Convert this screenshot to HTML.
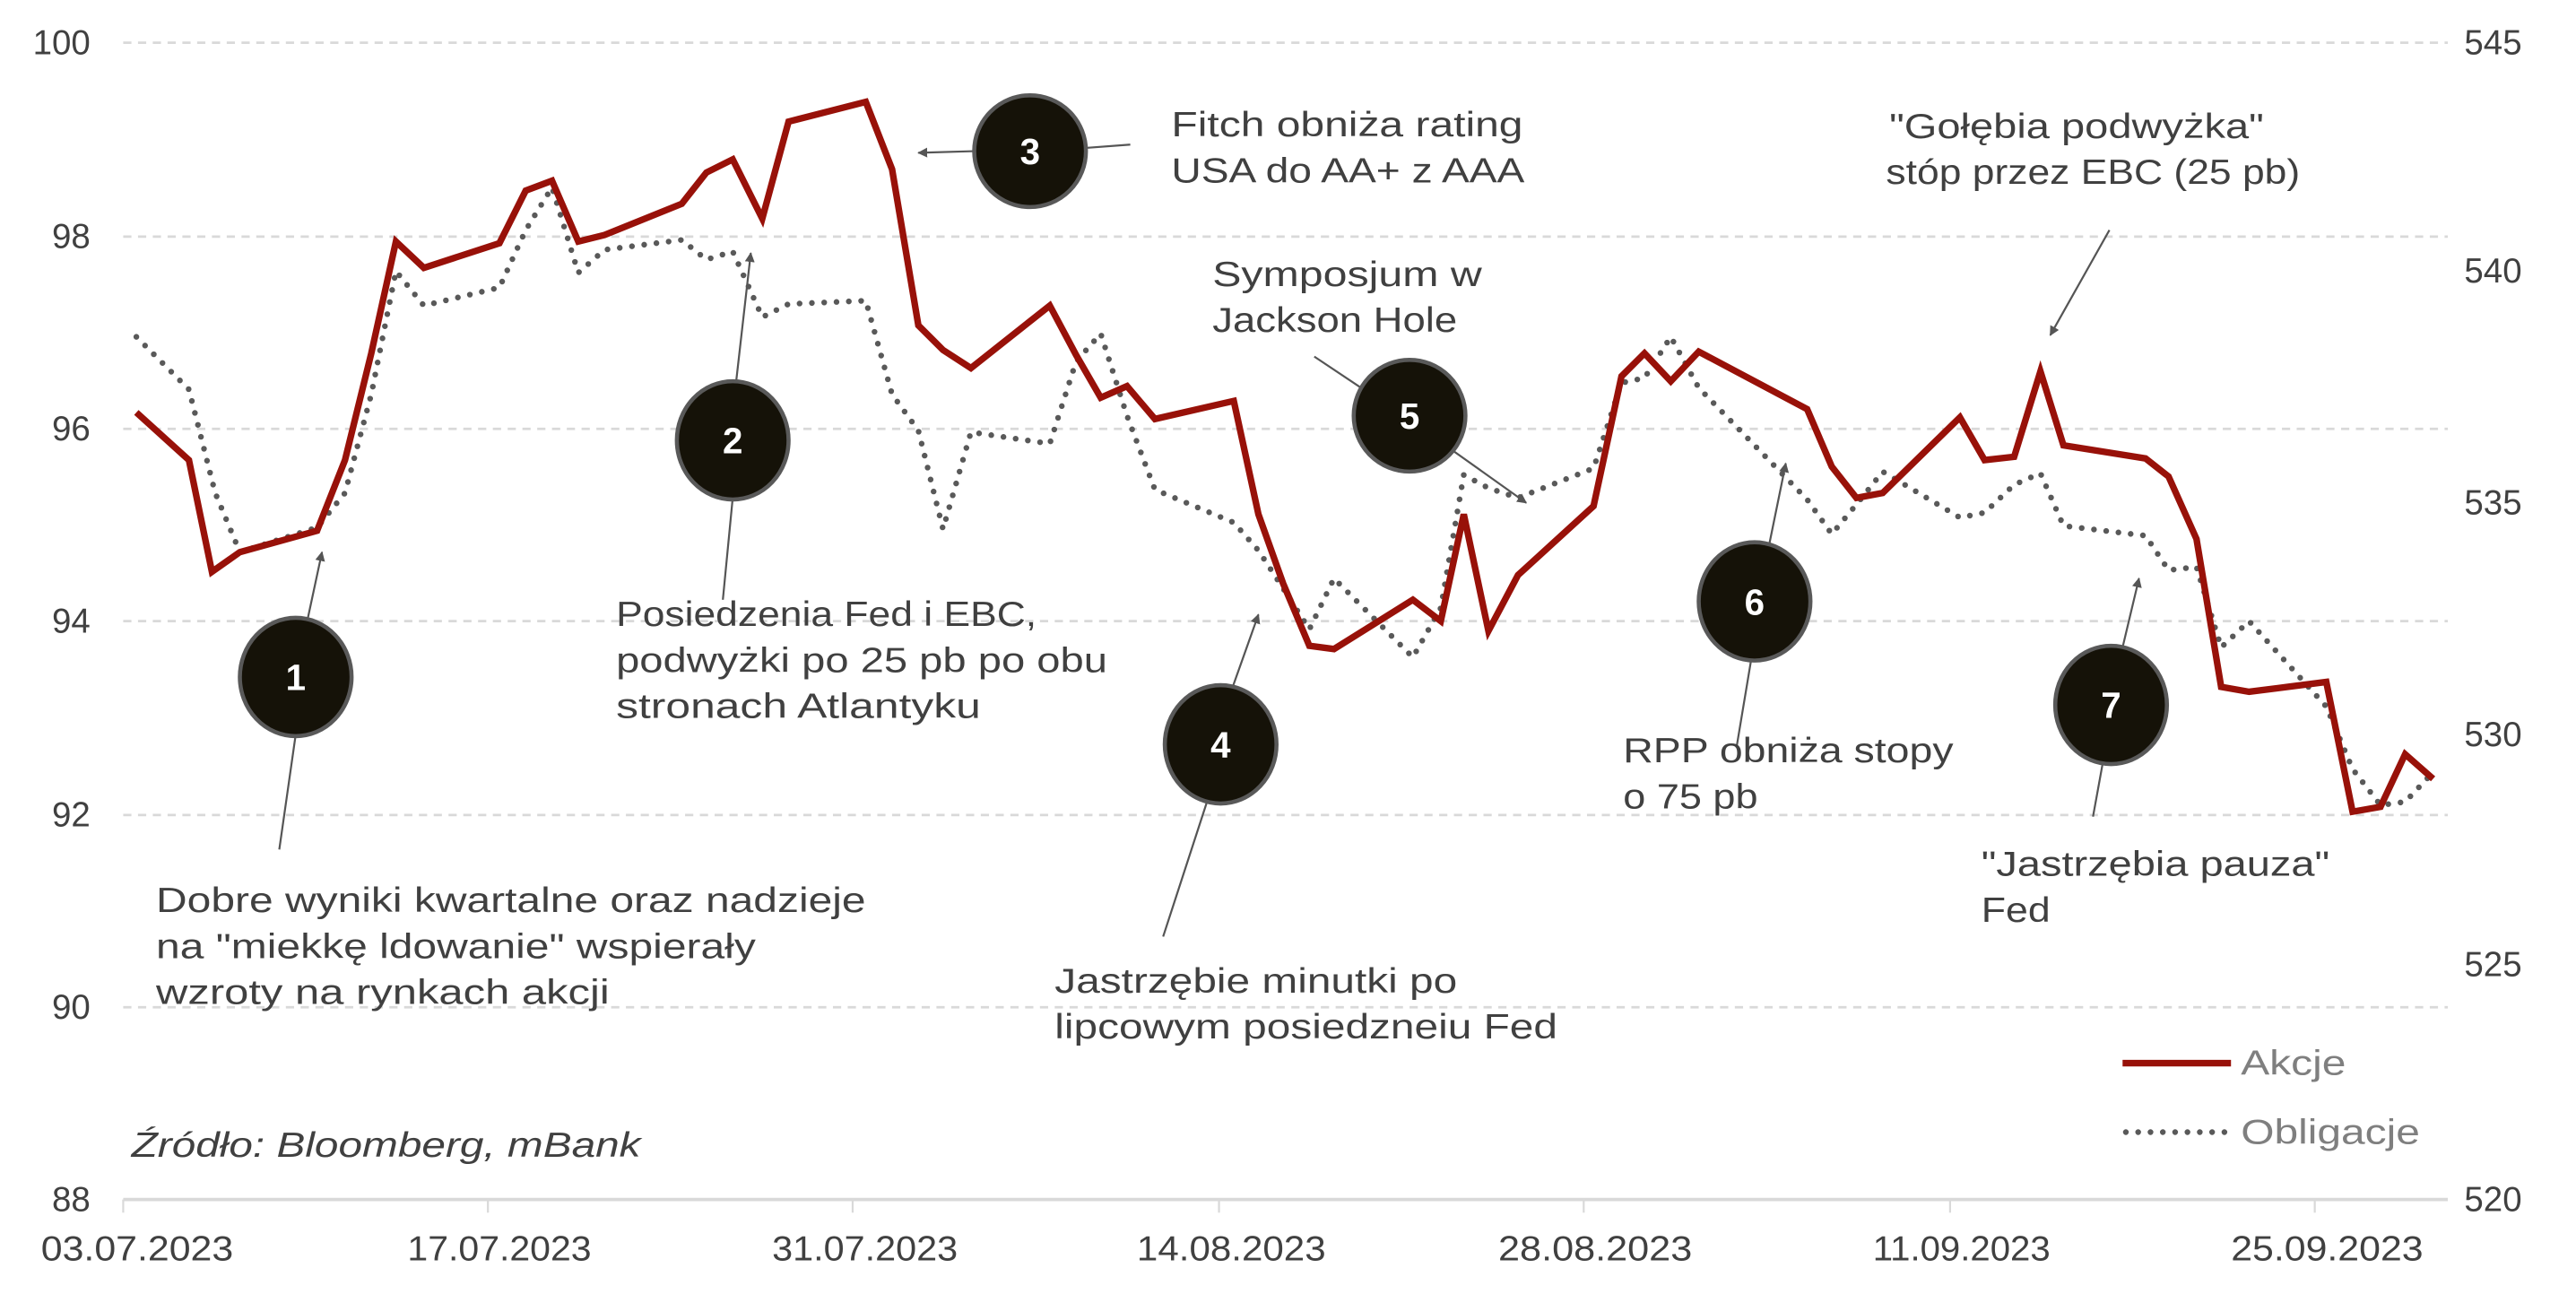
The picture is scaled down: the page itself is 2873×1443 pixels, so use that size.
<!DOCTYPE html>
<html><head><meta charset="utf-8"><style>
html,body{margin:0;padding:0;background:#fff;}
svg{display:block;}
text{font-family:"Liberation Sans",sans-serif;fill:#404040;}
</style></head><body>
<svg width="2873" height="1443" viewBox="0 0 1568 787.5" preserveAspectRatio="none" xmlns="http://www.w3.org/2000/svg">
<defs><marker id="ah" viewBox="0 0 10 10" refX="9" refY="5" markerWidth="5" markerHeight="5" orient="auto"><path d="M0,0 L10,5 L0,10 z" fill="#555"/></marker></defs>
<g stroke="#d9d9d9" stroke-width="1.5" stroke-dasharray="5,4">
<line x1="75" x2="1490" y1="26" y2="26"/><line x1="75" x2="1490" y1="144" y2="144"/><line x1="75" x2="1490" y1="261" y2="261"/><line x1="75" x2="1490" y1="378" y2="378"/><line x1="75" x2="1490" y1="496" y2="496"/><line x1="75" x2="1490" y1="613" y2="613"/>
</g>
<line x1="75" x2="1490" y1="730" y2="730" stroke="#d9d9d9" stroke-width="2"/>
<g stroke="#d9d9d9" stroke-width="1.2"><line x1="75" x2="75" y1="730" y2="738"/><line x1="297" x2="297" y1="730" y2="738"/><line x1="519" x2="519" y1="730" y2="738"/><line x1="742" x2="742" y1="730" y2="738"/><line x1="964" x2="964" y1="730" y2="738"/><line x1="1187" x2="1187" y1="730" y2="738"/><line x1="1409" x2="1409" y1="730" y2="738"/></g>
<g font-size="21" text-anchor="end" style="fill:#595959"><text x="55" y="33">100</text><text x="55" y="151">98</text><text x="55" y="268">96</text><text x="55" y="385">94</text><text x="55" y="503">92</text><text x="55" y="620">90</text><text x="55" y="737">88</text></g>
<g font-size="21" style="fill:#595959"><text x="1500" y="33">545</text><text x="1500" y="172">540</text><text x="1500" y="313">535</text><text x="1500" y="454">530</text><text x="1500" y="594">525</text><text x="1500" y="737">520</text></g>
<g font-size="21" style="fill:#595959"><text lengthAdjust="spacingAndGlyphs" x="25" y="767" textLength="117">03.07.2023</text><text lengthAdjust="spacingAndGlyphs" x="248" y="767" textLength="112">17.07.2023</text><text lengthAdjust="spacingAndGlyphs" x="470" y="767" textLength="113">31.07.2023</text><text lengthAdjust="spacingAndGlyphs" x="692" y="767" textLength="115">14.08.2023</text><text lengthAdjust="spacingAndGlyphs" x="912" y="767" textLength="118">28.08.2023</text><text lengthAdjust="spacingAndGlyphs" x="1140" y="767" textLength="108">11.09.2023</text><text lengthAdjust="spacingAndGlyphs" x="1358" y="767" textLength="117">25.09.2023</text></g>
<polyline fill="none" stroke="#595959" stroke-width="3.5" stroke-linecap="round" stroke-dasharray="0,7.5" points="83,205 115,237 131,300 146,336 193,321 210,300 226,240 241,165 258,186 304,175 320,140 336,114 352,166 368,152 415,146 430,158 446,153 464,193 480,185 527,183 543,240 559,262 574,322 591,263 639,270 655,220 670,203 686,253 703,298 751,318 766,335 781,358 797,383 812,352 860,400 877,370 891,289 906,297 924,303 970,285 987,233 1001,230 1017,205 1034,236 1100,304 1115,325 1130,307 1146,287 1193,315 1208,312 1226,295 1242,288 1256,320 1306,326 1320,347 1337,345 1352,394 1369,378 1416,430 1432,468 1449,490 1464,488 1481,470"/>
<polyline fill="none" stroke="#981109" stroke-width="4" stroke-linejoin="miter" points="83,251 115,280 129,348 146,336 193,323 210,280 226,215 241,147 258,163 304,148 320,116 336,110 352,147 368,143 415,124 430,105 446,97 464,133 480,74 527,62 543,103 559,198 574,213 591,224 639,186 655,216 670,242 686,235 703,255 751,244 766,313 781,355 797,393 812,395 860,365 877,378 891,313 906,384 924,350 970,308 987,229 1001,215 1017,232 1034,214 1100,249 1115,284 1130,303 1146,300 1193,254 1208,280 1226,278 1242,226 1256,271 1306,279 1320,290 1337,328 1352,418 1369,421 1416,415 1432,494 1449,491 1464,459 1481,474"/>
<g stroke="#555" stroke-width="1.2" fill="none">
<line x1="170" y1="517" x2="180" y2="447"/><line x1="187" y1="378" x2="196" y2="336" marker-end="url(#ah)"/>
<line x1="440" y1="365" x2="446" y2="303"/><line x1="448" y1="233" x2="457" y2="154" marker-end="url(#ah)"/>
<line x1="688" y1="88" x2="661" y2="90"/><line x1="593" y1="92" x2="559" y2="93" marker-end="url(#ah)"/>
<line x1="708" y1="570" x2="735" y2="487"/><line x1="750" y1="419" x2="766" y2="374" marker-end="url(#ah)"/>
<line x1="800" y1="217" x2="830" y2="237"/><line x1="884" y1="274" x2="929" y2="306" marker-end="url(#ah)"/>
<line x1="1077" y1="331" x2="1087" y2="282" marker-end="url(#ah)"/><line x1="1066" y1="401" x2="1057" y2="455"/>
<line x1="1292" y1="394" x2="1302" y2="352" marker-end="url(#ah)"/><line x1="1280" y1="464" x2="1274" y2="497"/>
<line x1="1284" y1="140" x2="1248" y2="204" marker-end="url(#ah)"/>
</g>
<g fill="#151208" stroke="#595959" stroke-width="2.5">
<ellipse cx="180" cy="412" rx="34" ry="36"/><ellipse cx="446" cy="268" rx="34" ry="36"/><ellipse cx="627" cy="92" rx="34" ry="34"/><ellipse cx="743" cy="453" rx="34" ry="36"/><ellipse cx="858" cy="253" rx="34" ry="34"/><ellipse cx="1068" cy="366" rx="34" ry="36"/><ellipse cx="1285" cy="429" rx="34" ry="36"/>
</g>
<g font-size="22" font-weight="bold" text-anchor="middle"><text x="180" y="420" style="fill:#fff">1</text><text x="446" y="276" style="fill:#fff">2</text><text x="627" y="100" style="fill:#fff">3</text><text x="743" y="461" style="fill:#fff">4</text><text x="858" y="261" style="fill:#fff">5</text><text x="1068" y="374" style="fill:#fff">6</text><text x="1285" y="437" style="fill:#fff">7</text></g>
<g font-size="21">
<text lengthAdjust="spacingAndGlyphs" x="713" y="83" textLength="214">Fitch obniża rating</text><text lengthAdjust="spacingAndGlyphs" x="713" y="111" textLength="215">USA do AA+ z AAA</text>
<text lengthAdjust="spacingAndGlyphs" x="1150" y="84" textLength="228">"Gołębia podwyżka"</text><text lengthAdjust="spacingAndGlyphs" x="1148" y="112" textLength="252">stóp przez EBC (25 pb)</text>
<text lengthAdjust="spacingAndGlyphs" x="738" y="174" textLength="164">Symposjum w</text><text lengthAdjust="spacingAndGlyphs" x="738" y="202" textLength="149">Jackson Hole</text>
<text lengthAdjust="spacingAndGlyphs" x="375" y="381" textLength="256">Posiedzenia Fed i EBC,</text><text lengthAdjust="spacingAndGlyphs" x="375" y="409" textLength="299">podwyżki po 25 pb po obu</text><text lengthAdjust="spacingAndGlyphs" x="375" y="437" textLength="222">stronach Atlantyku</text>
<text lengthAdjust="spacingAndGlyphs" x="95" y="555" textLength="432">Dobre wyniki kwartalne oraz nadzieje</text><text lengthAdjust="spacingAndGlyphs" x="95" y="583" textLength="365">na "miekkę ldowanie" wspierały</text><text lengthAdjust="spacingAndGlyphs" x="95" y="611" textLength="276">wzroty na rynkach akcji</text>
<text lengthAdjust="spacingAndGlyphs" x="642" y="604" textLength="245">Jastrzębie minutki po</text><text lengthAdjust="spacingAndGlyphs" x="642" y="632" textLength="306">lipcowym posiedzneiu Fed</text>
<text lengthAdjust="spacingAndGlyphs" x="988" y="464" textLength="201">RPP obniża stopy</text><text lengthAdjust="spacingAndGlyphs" x="988" y="492" textLength="82">o 75 pb</text>
<text lengthAdjust="spacingAndGlyphs" x="1206" y="533" textLength="212">"Jastrzębia pauza"</text><text lengthAdjust="spacingAndGlyphs" x="1206" y="561" textLength="42">Fed</text>
<text lengthAdjust="spacingAndGlyphs" x="80" y="704" font-style="italic" textLength="310">Źródło: Bloomberg, mBank</text>
<text lengthAdjust="spacingAndGlyphs" x="1364" y="654" style="fill:#7f7f7f" textLength="64">Akcje</text><text lengthAdjust="spacingAndGlyphs" x="1364" y="696" style="fill:#7f7f7f" textLength="109">Obligacje</text>
</g>
<line x1="1292" x2="1358" y1="647" y2="647" stroke="#981109" stroke-width="4"/>
<line x1="1294" x2="1356" y1="689" y2="689" stroke="#595959" stroke-width="3.5" stroke-linecap="round" stroke-dasharray="0,7.5"/>
</svg>
</body></html>
